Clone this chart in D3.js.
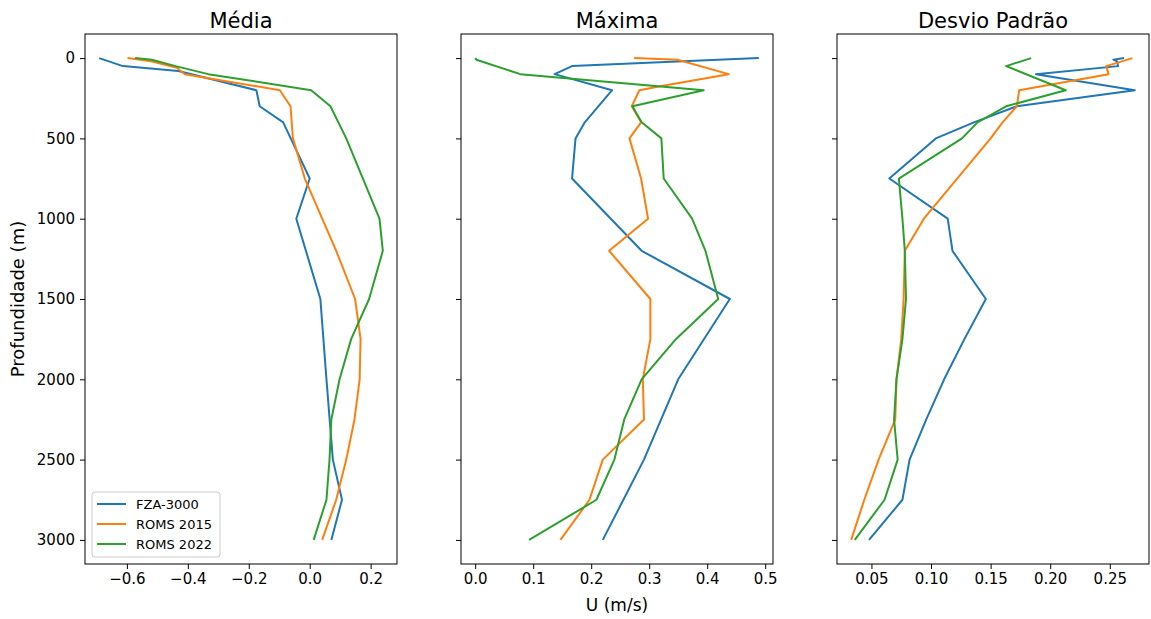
<!DOCTYPE html>
<html>
<head>
<meta charset="utf-8">
<script src="https://cdn.jsdelivr.net/npm/d3@7"></script>
<style>
  body { margin: 0; background: #fff; }
  text { font-family: "DejaVu Sans", sans-serif; fill: #000; }
  .tick text { font-size: 15px; }
</style>
</head>
<body>
<div class="chart"></div>
<script>
// depth levels (m) shared by all profiles, null = no vertex at that level
const depth = [0, 10, 20, 50, 60, 80, 100, 175, 200, 300, 400, 500, 750, 1000, 1200, 1500, 1750, 2000, 2250, 2500, 2750, 3000];

// Média
const mediaFza      = [-0.691, null, null, -0.613, null, -0.431, null, null, -0.175, -0.164, -0.087, null, 0.0, -0.044, null, 0.035, null, 0.055, null, 0.076, 0.106, 0.071];
const mediaRoms2015 = [-0.598, null, -0.52, null, -0.436, null, -0.41, null, -0.098, -0.063, null, -0.055, -0.016, null, 0.087, 0.149, 0.167, 0.164, 0.147, 0.12, 0.087, 0.041];
const mediaRoms2022 = [-0.573, -0.518, null, -0.44, null, null, -0.333, null, 0.005, 0.068, null, 0.12, null, 0.229, 0.24, 0.195, 0.136, 0.098, 0.071, 0.065, 0.055, 0.013];

// Máxima
const maxFza      = [0.489, null, null, 0.167, null, null, 0.137, null, 0.236, null, 0.189, 0.173, 0.167, null, 0.287, 0.439, null, 0.35, null, 0.291, null, 0.22];
const maxRoms2015 = [0.274, 0.349, null, null, null, null, 0.437, 0.319, 0.283, 0.27, 0.286, 0.266, 0.286, 0.298, 0.231, 0.302, 0.302, 0.289, 0.291, 0.22, 0.197, 0.147];
const maxRoms2022 = [0.0, 0.002, null, null, null, null, 0.078, null, 0.394, 0.271, 0.287, 0.321, 0.325, 0.374, 0.397, 0.419, 0.346, 0.287, 0.257, 0.24, 0.209, 0.093];

// Desvio Padrão
const stdFza      = [0.262, 0.253, 0.256, 0.257, null, null, 0.188, null, 0.271, 0.172, 0.136, 0.104, 0.065, 0.114, 0.118, 0.146, 0.128, 0.111, 0.096, 0.082, 0.076, 0.048];
const stdRoms2015 = [0.269, null, null, 0.247, null, null, 0.249, null, 0.174, 0.172, 0.16, 0.15, null, 0.094, 0.078, 0.077, 0.075, 0.071, 0.07, 0.056, 0.044, 0.033];
const stdRoms2022 = [0.184, null, null, 0.163, null, null, null, null, 0.213, 0.163, 0.139, 0.126, 0.073, 0.076, 0.078, 0.079, 0.076, 0.071, 0.069, 0.072, 0.061, 0.036];

const seriesNames = ["FZA-3000", "ROMS 2015", "ROMS 2022"];
const titles = ["Média", "Máxima", "Desvio Padrão"];
const yTicks = [0, 500, 1000, 1500, 2000, 2500, 3000];
const xTicksMedia = [-0.6, -0.4, -0.2, 0.0, 0.2];
const xTicksMax = [0.0, 0.1, 0.2, 0.3, 0.4, 0.5];
const xTicksStd = [0.05, 0.10, 0.15, 0.20, 0.25];

const colors = ["#1f77b4", "#ff7f0e", "#2ca02c"];

const width = 1151, height = 619;
const plotTop = 34, plotBottom = 564;
const panelW = 312;
const panelX = [85, 461, 837];

const panels = [
  { title: titles[0], series: [mediaFza, mediaRoms2015, mediaRoms2022], ticks: xTicksMedia, fmt: d3.format(".1f") },
  { title: titles[1], series: [maxFza, maxRoms2015, maxRoms2022], ticks: xTicksMax, fmt: d3.format(".1f") },
  { title: titles[2], series: [stdFza, stdRoms2015, stdRoms2022], ticks: xTicksStd, fmt: d3.format(".2f") }
];

const svg = d3.select(".chart").append("svg")
  .attr("width", width)
  .attr("height", height);

// shared y, inverted with matplotlib-like 5% margins
const y = d3.scaleLinear().domain([-150, 3150]).range([plotTop, plotBottom]);

function padded(ext) {
  const p = (ext[1] - ext[0]) * 0.05;
  return [ext[0] - p, ext[1] + p];
}

panels.forEach(function(p, i) {
  const all = p.series.flat().filter(v => v != null);
  const x = d3.scaleLinear().domain(padded(d3.extent(all))).range([0, panelW]);

  const g = svg.append("g").attr("transform", "translate(" + panelX[i] + ",0)");

  // lines
  const line = d3.line()
    .x(d => x(d.v))
    .y(d => y(d.d));

  p.series.forEach(function(vals, k) {
    const pts = depth.map((d, j) => ({ d: d, v: vals[j] })).filter(o => o.v != null);
    g.append("path")
      .datum(pts)
      .attr("d", line)
      .attr("fill", "none")
      .attr("stroke", colors[k])
      .attr("stroke-width", 2)
      .attr("stroke-linejoin", "round");
  });

  // x axis
  const xa = g.append("g")
    .attr("transform", "translate(0," + plotBottom + ")")
    .call(d3.axisBottom(x).tickValues(p.ticks).tickFormat(p.fmt).tickSize(5).tickPadding(4))
    .attr("font-size", 15)
    .attr("font-family", "DejaVu Sans");
  xa.select(".domain").remove();

  // y axis (labels only on first panel)
  const ya = g.append("g")
    .call(d3.axisLeft(y).tickValues(yTicks).tickFormat(i === 0 ? d3.format("d") : "").tickSize(5).tickPadding(5))
    .attr("font-size", 15)
    .attr("font-family", "DejaVu Sans");
  ya.select(".domain").remove();

  // frame
  g.append("rect")
    .attr("x", 0).attr("y", plotTop)
    .attr("width", panelW).attr("height", plotBottom - plotTop)
    .attr("fill", "none")
    .attr("stroke", "#000")
    .attr("stroke-width", 1);

  // title
  g.append("text")
    .attr("x", panelW / 2).attr("y", 28)
    .attr("text-anchor", "middle")
    .style("font-size", "21px")
    .text(p.title);
});

// axis labels
svg.append("text")
  .attr("transform", "translate(24," + ((plotTop + plotBottom) / 2) + ") rotate(-90)")
  .attr("text-anchor", "middle")
  .style("font-size", "18px")
  .text("Profundidade (m)");

svg.append("text")
  .attr("x", panelX[1] + panelW / 2)
  .attr("y", 611)
  .attr("text-anchor", "middle")
  .style("font-size", "17px")
  .text("U (m/s)");

// legend
const lg = svg.append("g").attr("transform", "translate(92,492)");
lg.append("rect")
  .attr("width", 128).attr("height", 65)
  .attr("rx", 3)
  .attr("fill", "#fff").attr("fill-opacity", 0.8)
  .attr("stroke", "#ccc");
seriesNames.forEach(function(name, k) {
  const yy = 12 + k * 20;
  lg.append("line")
    .attr("x1", 5).attr("x2", 34)
    .attr("y1", yy).attr("y2", yy)
    .attr("stroke", colors[k]).attr("stroke-width", 2);
  lg.append("text")
    .attr("x", 44).attr("y", yy)
    .attr("dy", "0.35em")
    .style("font-size", "13px")
    .text(name);
});
</script>
</body>
</html>
